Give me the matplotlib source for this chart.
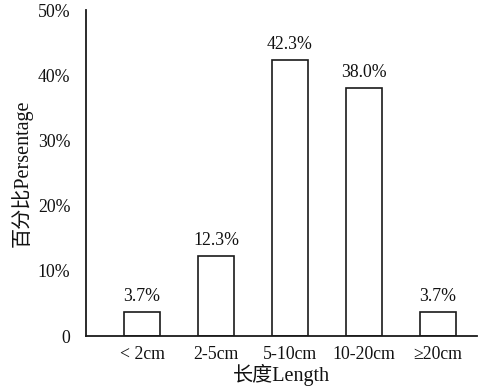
import matplotlib
matplotlib.use("Agg")
import matplotlib.pyplot as plt
from matplotlib.ticker import FuncFormatter

plt.rcParams['font.family'] = ['Liberation Serif', 'Noto Sans CJK SC']

categories = ["< 2cm", "2-5cm", "5-10cm", "10-20cm", "\u226520cm"]
values = [3.7, 12.3, 42.3, 38.0, 3.7]
yticks = [0, 10, 20, 30, 40, 50]

fig = plt.figure(figsize=(4.82, 3.88), dpi=100)
ax = fig.add_axes([0.178, 0.134, 0.812, 0.840])

x = list(range(len(categories)))
bars = ax.bar(x, values, width=0.49, color="white", edgecolor="#1a1a1a", linewidth=1.2)
for xi, v in zip(x, values):
    ax.annotate(f"{v:.1f}%", (xi, v), xytext=(0, 5), textcoords="offset points",
                ha="center", va="bottom", fontsize=12.8, color="#111111")

ax.set_xlim(-0.76, 4.53)
ax.set_ylim(0, 50)
ax.set_yticks(yticks)
ax.yaxis.set_major_formatter(FuncFormatter(lambda v, p: "0" if v == 0 else f"{v:.0f}%"))
ax.set_xticks(x)
ax.set_xticklabels(categories)
ax.tick_params(axis="both", length=0, labelsize=12.8, colors="#111111")
ax.tick_params(axis="y", pad=11)
ax.tick_params(axis="x", pad=7)
for s in ["top", "right"]:
    ax.spines[s].set_visible(False)
for s in ["left", "bottom"]:
    ax.spines[s].set_linewidth(1.3)
    ax.spines[s].set_color("#1a1a1a")

ax.set_ylabel("百分比Persentage", fontsize=14.5, color="#111111", labelpad=4)
ax.set_xlabel("长度Length", fontsize=14.5, color="#111111", labelpad=1)

fig.savefig("out.png", dpi=100)
